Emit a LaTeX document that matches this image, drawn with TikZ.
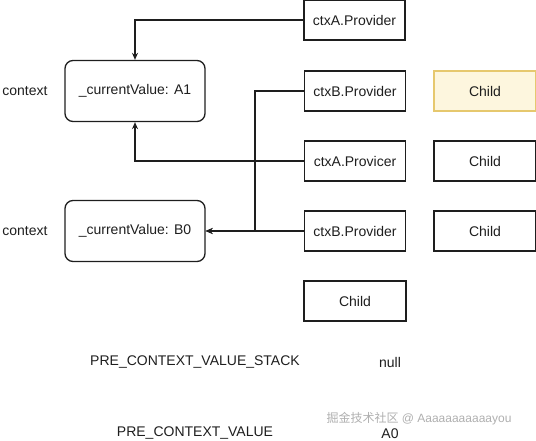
\documentclass[tikz,border=0pt]{standalone}
\usepackage{fontspec}
\setmainfont{Liberation Sans}
\newfontfamily\cjk{Noto Sans CJK SC}
\usetikzlibrary{arrows.meta}
\definecolor{ink}{RGB}{30,30,30}
\definecolor{ylwline}{RGB}{230,200,110}
\definecolor{ylwfill}{RGB}{253,246,222}
\definecolor{wmark}{RGB}{175,175,175}
\begin{document}
\begin{tikzpicture}[x=1pt,y=-1pt,
  every node/.style={font=\fontsize{14}{16}\selectfont, text=ink},
  ctxbox/.style={draw=ink, line width=1.3pt, rounded corners=8pt, minimum width=140pt, minimum height=61pt},
  provbox/.style={draw=ink, line width=1.3pt, minimum width=101pt, minimum height=40pt},
  childbox/.style={draw=ink, line width=1.3pt, minimum width=102pt, minimum height=40pt},
  ychild/.style={childbox, draw=ylwline, fill=ylwfill},
  lbl/.style={},
  conn/.style={draw=ink, line width=1.3pt, -{Stealth[length=7pt,width=6pt,open]}}
]
\useasboundingbox (0,0) rectangle (536,441);
% context boxes
\node[ctxbox] (a1) at (135,91) {\_currentValue: A1};
\node[ctxbox] (b0) at (135,231) {\_currentValue: B0};
\node[lbl] (l1) at (25,91) {context};
\node[lbl] (l2) at (25,231) {context};
% providers
\node[provbox] (pa1) at (354.5,20) {ctxA.Provider};
\node[provbox] (pb1) at (355,91) {ctxB.Provider};
\node[provbox] (pa2) at (355,161) {ctxA.Provicer};
\node[provbox] (pb2) at (355,231) {ctxB.Provider};
% children
\node[ychild] (c1) at (485,91) {Child};
\node[childbox] (c2) at (485,161) {Child};
\node[childbox] (c3) at (485,231) {Child};
\node[childbox] (c4) at (355,301) {Child};
% bottom texts
\node[lbl] (s1) at (195,362) {PRE\_CONTEXT\_VALUE\_STACK};
\node[lbl] (s2) at (390,362) {null};
\node[lbl] (v1) at (195,433) {PRE\_CONTEXT\_VALUE};
\node[lbl] (v2) at (390,434) {A0};
\node[font=\fontsize{12}{14}\selectfont, text=wmark] (wm) at (419,419) {{\cjk 掘金技术社区} @ Aaaaaaaaaaayou};
% connectors
\coordinate (j) at (255,91);
\draw[conn] (pa1.west) -| (a1.north);
\draw[conn] (pa2.west) -| (a1.south);
\draw[conn] (pb1.west) -- (j) |- (b0.east);
\draw[conn] (pb2.west) -- (b0.east);
\end{tikzpicture}
\end{document}
